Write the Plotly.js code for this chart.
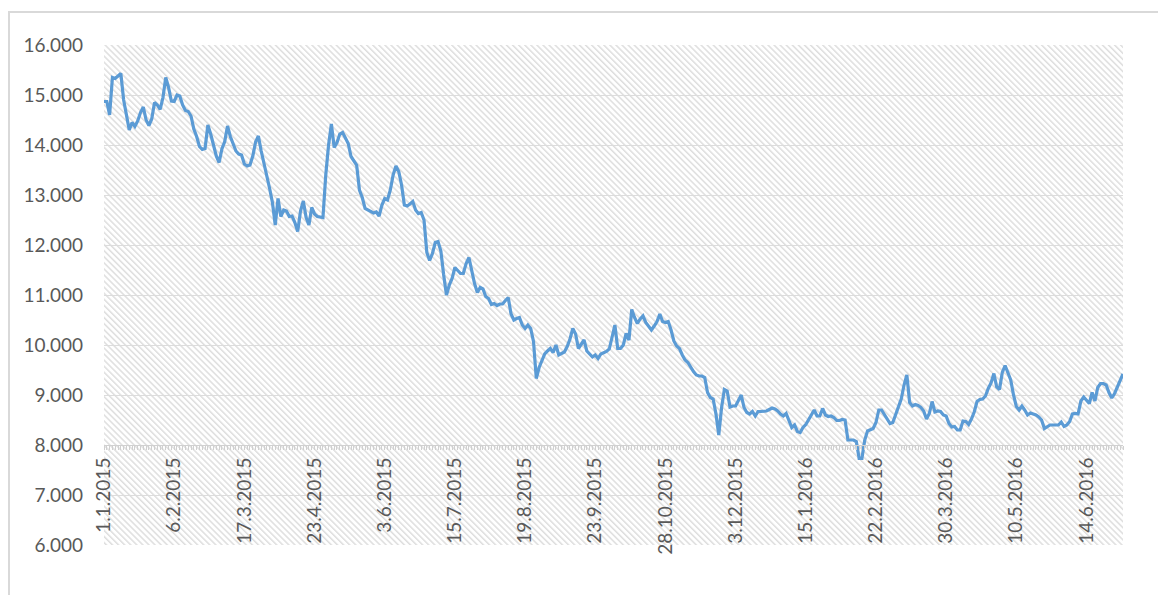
<!DOCTYPE html>
<html>
<head>
<meta charset="utf-8">
<script src="https://cdn.plot.ly/plotly-3.0.1.min.js"></script>
<style>
  html, body { margin: 0; padding: 0; background: #ffffff; }
  #wrap { position: relative; width: 1158px; height: 595px; overflow: hidden; }
  #chart { position: absolute; left: 0; top: 0; width: 1158px; height: 595px; }
  #frame { position: absolute; left: 8px; top: 11px; width: 1200px; height: 700px;
           border-left: 2px solid #d9d9d9; border-top: 2px solid #d9d9d9; pointer-events: none; }
</style>
</head>
<body>
<div id="wrap">
  <div id="chart"></div>
  <div id="frame"></div>
</div>
<script>
// Tick labels (one every 25 trading days on the category axis)
const tickLabels = ["1.1.2015","6.2.2015","17.3.2015","23.4.2015","3.6.2015","15.7.2015",
  "19.8.2015","23.9.2015","28.10.2015","3.12.2015","15.1.2016","22.2.2016","30.3.2016",
  "10.5.2016","14.6.2016"];
const labelStep = 25;

// Daily values (one per trading day)
const values = [
14870,14870,14600,15350,15330,15380,15430,14900,14550,14300,
14450,14370,14480,14650,14760,14500,14390,14520,14850,14800,
14710,14950,15350,15150,14880,14870,15000,14980,14800,14690,
14670,14580,14320,14170,13970,13910,13930,14400,14220,14000,
13780,13650,13920,14070,14380,14170,14030,13880,13820,13800,
13620,13580,13600,13780,14060,14180,13880,13650,13420,13130,
12850,12400,12930,12570,12700,12680,12570,12580,12450,12270,
12680,12880,12550,12400,12750,12620,12570,12560,12550,13400,
14000,14420,13950,14050,14220,14250,14120,14030,13770,13690,
13600,13100,12950,12730,12700,12680,12640,12660,12580,12800,
12930,12900,13100,13400,13580,13470,13200,12800,12780,12820,
12870,12700,12630,12650,12500,11850,11690,11830,12050,12070,
11880,11400,11000,11200,11330,11550,11500,11430,11430,11630,
11750,11450,11230,11050,11150,11120,10970,10930,10810,10830,
10790,10820,10820,10890,10950,10620,10500,10530,10550,10400,
10330,10400,10330,10070,9330,9550,9670,9820,9880,9930,
9850,10000,9800,9830,9860,9970,10120,10330,10220,9930,
10020,10100,9880,9820,9760,9800,9730,9820,9850,9870,
9920,10150,10400,9930,9930,10000,10230,10100,10710,10550,
10430,10520,10580,10450,10370,10300,10380,10470,10620,10470,
10450,10470,10300,10080,9980,9930,9800,9700,9650,9550,
9470,9400,9380,9380,9350,9050,8950,8920,8620,8200,
8750,9110,9080,8760,8780,8780,8900,9000,8750,8650,
8620,8670,8580,8670,8670,8680,8680,8710,8740,8720,
8680,8620,8580,8630,8470,8350,8400,8270,8250,8350,
8410,8500,8580,8700,8580,8580,8730,8600,8570,8580,
8550,8490,8490,8510,8500,8100,8100,8100,8070,7730,
7730,8100,8280,8300,8330,8450,8700,8700,8600,8520,
8430,8450,8620,8790,8920,9200,9400,8850,8780,8810,
8790,8750,8680,8520,8630,8870,8660,8680,8670,8600,
8580,8430,8360,8370,8300,8300,8480,8470,8410,8520,
8660,8870,8910,8920,8980,9130,9240,9430,9160,9110,
9450,9590,9460,9300,9000,8770,8700,8780,8700,8600,
8640,8620,8600,8560,8500,8330,8370,8400,8400,8400,
8400,8460,8370,8400,8470,8620,8630,8620,8880,8960,
8900,8830,9050,8880,9150,9230,9230,9200,9050,8940,
9030,9160,9260,9420
];

const idx = values.map((v, i) => i);
const tickPositions = tickLabels.map((t, k) => k * labelStep);

const plotW = 1158 - 104 - 35, plotH = 595 - 45 - 50;
const hatchSvg =
  '<svg xmlns="http://www.w3.org/2000/svg" width="' + plotW + '" height="' + plotH + '">' +
  '<defs><pattern id="h" width="4.3" height="4.3" patternUnits="userSpaceOnUse" patternTransform="rotate(-45)">' +
  '<rect x="0" y="0" width="1.5" height="4.3" fill="#dedede"/></pattern></defs>' +
  '<rect width="100%" height="100%" fill="#ffffff"/>' +
  '<rect width="100%" height="100%" fill="url(#h)"/></svg>';
const hatchUri = 'data:image/svg+xml;charset=utf-8,' + encodeURIComponent(hatchSvg);

const trace = {
  x: idx, y: values, type: 'scatter', mode: 'lines',
  line: { color: '#5b9bd5', width: 3.2 },
  hoverinfo: 'skip', showlegend: false
};

const fontSpec = { family: 'Lato, "Open Sans", sans-serif', size: 19, color: '#595959' };

const layout = {
  width: 1158, height: 595,
  margin: { l: 104, r: 35, t: 45, b: 50, pad: 0 },
  paper_bgcolor: 'rgba(0,0,0,0)',
  plot_bgcolor: 'rgba(0,0,0,0)',
  separators: ',.',
  font: fontSpec,
  showlegend: false,
  images: [{
    source: hatchUri, xref: 'paper', yref: 'paper', x: 0, y: 1,
    sizex: 1, sizey: 1, sizing: 'stretch', xanchor: 'left', yanchor: 'top', layer: 'below'
  }],
  xaxis: {
    type: 'linear', range: [0, values.length - 1],
    anchor: 'free', position: 0.2,
    showgrid: false, zeroline: false,
    showline: true, linecolor: '#d0d0d0', linewidth: 1,
    tickmode: 'array', tickvals: tickPositions, ticktext: tickLabels,
    ticks: 'outside', ticklen: 4, tickcolor: '#d0d0d0', tickwidth: 1,
    minor: { dtick: 1, tick0: 0, ticks: 'outside', ticklen: 4, tickcolor: '#d0d0d0', tickwidth: 1, showgrid: false },
    tickangle: -90,
    tickfont: fontSpec,
    fixedrange: true
  },
  yaxis: {
    range: [6000, 16000], tick0: 6000, dtick: 1000,
    tickformat: ',.0f',
    showgrid: true, gridcolor: '#dcdcdc', gridwidth: 1,
    zeroline: false, showline: false, ticks: '',
    ticklabelstandoff: 20,
    tickfont: fontSpec,
    fixedrange: true
  }
};

Plotly.newPlot('chart', [trace], layout, { displayModeBar: false, staticPlot: true });
</script>
</body>
</html>
